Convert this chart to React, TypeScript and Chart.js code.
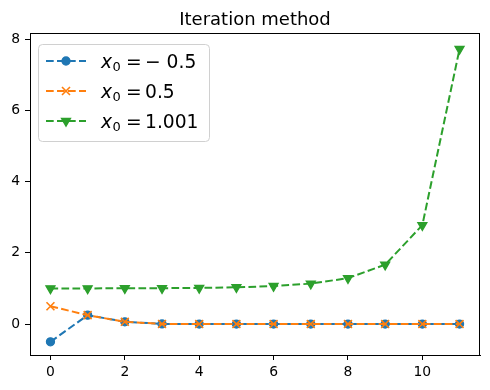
import React, { useEffect, useRef } from "react";
import { Chart, registerables } from "chart.js";

Chart.register(...registerables);

const iterations = [0, 1, 2, 3, 4, 5, 6, 7, 8, 9, 10, 11];
const seriesNeg = [-0.5, 0.25, 0.0625, 0.0039, 0.0, 0.0, 0.0, 0.0, 0.0, 0.0, 0.0, 0.0];
const seriesHalf = [0.5, 0.25, 0.0625, 0.0039, 0.0, 0.0, 0.0, 0.0, 0.0, 0.0, 0.0, 0.0];
const seriesNear1 = [1.001, 1.002, 1.004, 1.008, 1.016, 1.032, 1.066, 1.136, 1.29, 1.668, 2.78, 7.73];
const xTicks = [0, 2, 4, 6, 8, 10];
const yTicks = [0, 2, 4, 6, 8];
const legendValues = ["\u2212 0.5", "0.5", "1.001"];
const titleText = "Iteration method";

const BLUE = "#1f77b4";
const ORANGE = "#ff7f0e";
const GREEN = "#2ca02c";
const FONT = "'DejaVu Sans', sans-serif";
const DASH = [7.7, 3.3];
const LW = 2;

function drawMarker(ctx: CanvasRenderingContext2D, kind: string, x: number, y: number, color: string) {
  ctx.save();
  ctx.setLineDash([]);
  ctx.fillStyle = color;
  ctx.strokeStyle = color;
  if (kind === "circle") {
    ctx.lineWidth = 1.3;
    ctx.beginPath();
    ctx.arc(x, y, 4, 0, Math.PI * 2);
    ctx.fill();
    ctx.stroke();
  } else if (kind === "x") {
    ctx.lineWidth = 1.6;
    const d = 4;
    ctx.beginPath();
    ctx.moveTo(x - d, y - d);
    ctx.lineTo(x + d, y + d);
    ctx.moveTo(x - d, y + d);
    ctx.lineTo(x + d, y - d);
    ctx.stroke();
  } else {
    ctx.lineWidth = 1.3;
    const r = 5.2;
    ctx.beginPath();
    ctx.moveTo(x, y + r);
    ctx.lineTo(x - r * Math.sin(Math.PI / 3), y - r / 2);
    ctx.lineTo(x + r * Math.sin(Math.PI / 3), y - r / 2);
    ctx.closePath();
    ctx.fill();
    ctx.stroke();
  }
  ctx.restore();
}

const decorPlugin = {
  id: "decor",
  afterDraw(chart: any) {
    const ctx: CanvasRenderingContext2D = chart.ctx;
    const a = chart.chartArea;
    ctx.save();
    ctx.strokeStyle = "#000";
    ctx.lineWidth = 1;
    ctx.setLineDash([]);
    ctx.strokeRect(Math.round(a.left) + 0.5, Math.round(a.top) + 0.5, Math.round(a.right - a.left) - 1, Math.round(a.bottom - a.top));
    ctx.fillStyle = "#000";
    ctx.font = `18px ${FONT}`;
    ctx.textAlign = "center";
    ctx.textBaseline = "alphabetic";
    ctx.fillText(titleText, (a.left + a.right) / 2, a.top - 8);
    const bx = 38.5, by = 44.5, bw = 171, bh = 97, rr = 4;
    ctx.beginPath();
    ctx.moveTo(bx + rr, by);
    ctx.lineTo(bx + bw - rr, by);
    ctx.quadraticCurveTo(bx + bw, by, bx + bw, by + rr);
    ctx.lineTo(bx + bw, by + bh - rr);
    ctx.quadraticCurveTo(bx + bw, by + bh, bx + bw - rr, by + bh);
    ctx.lineTo(bx + rr, by + bh);
    ctx.quadraticCurveTo(bx, by + bh, bx, by + bh - rr);
    ctx.lineTo(bx, by + rr);
    ctx.quadraticCurveTo(bx, by, bx + rr, by);
    ctx.closePath();
    ctx.fillStyle = "rgba(255,255,255,0.8)";
    ctx.fill();
    ctx.strokeStyle = "#d0d0d0";
    ctx.lineWidth = 1;
    ctx.stroke();
    const colors = [BLUE, ORANGE, GREEN];
    const kinds = ["circle", "x", "tri"];
    const rows = [61, 91, 121];
    for (let i = 0; i < 3; i++) {
      const y = rows[i];
      ctx.strokeStyle = colors[i];
      ctx.lineWidth = LW;
      ctx.setLineDash(DASH);
      ctx.beginPath();
      ctx.moveTo(46, y);
      ctx.lineTo(86, y);
      ctx.stroke();
      drawMarker(ctx, kinds[i], 66, y, colors[i]);
      ctx.setLineDash([]);
      ctx.fillStyle = "#000";
      ctx.textAlign = "left";
      ctx.textBaseline = "alphabetic";
      const base = y + 7;
      const tx = 101;
      ctx.font = `italic 18.7px ${FONT}`;
      ctx.fillText("x", tx, base);
      ctx.font = `13px ${FONT}`;
      ctx.fillText("0", tx + 11.5, base + 3);
      ctx.font = `18.7px ${FONT}`;
      ctx.fillText("=", tx + 25, base);
      ctx.fillText(legendValues[i], tx + 44, base);
    }
    ctx.restore();
  },
};

export default function App() {
  const ref = useRef<HTMLCanvasElement | null>(null);
  useEffect(() => {
    document.body.style.margin = "0";
    const canvas = ref.current;
    if (!canvas) return;
    const mk = (vals: number[]) => iterations.map((x, i) => ({ x, y: vals[i] }));
    const chart = new Chart(canvas, {
      type: "line",
      data: {
        datasets: [
          {
            label: "x0 = -0.5",
            data: mk(seriesNeg),
            borderColor: BLUE,
            backgroundColor: BLUE,
            borderWidth: LW,
            borderDash: DASH,
            pointStyle: "circle",
            pointRadius: 4,
            pointBorderWidth: 1.3,
            pointBackgroundColor: BLUE,
            pointBorderColor: BLUE,
            order: 3,
          },
          {
            label: "x0 = 0.5",
            data: mk(seriesHalf),
            borderColor: ORANGE,
            backgroundColor: ORANGE,
            borderWidth: LW,
            borderDash: DASH,
            pointStyle: "crossRot",
            pointRadius: 5.6,
            pointBorderWidth: 1.6,
            pointBorderColor: ORANGE,
            order: 2,
          },
          {
            label: "x0 = 1.001",
            data: mk(seriesNear1),
            borderColor: GREEN,
            backgroundColor: GREEN,
            borderWidth: LW,
            borderDash: DASH,
            pointStyle: "triangle",
            pointRotation: 180,
            pointRadius: 5.2,
            pointBorderWidth: 1.3,
            pointBackgroundColor: GREEN,
            pointBorderColor: GREEN,
            order: 1,
          },
        ],
      },
      options: {
        animation: false,
        responsive: false,
        devicePixelRatio: 1,
        layout: { padding: { left: 0, right: 10, top: 33, bottom: 0 } },
        plugins: { legend: { display: false }, title: { display: false }, tooltip: { enabled: false } },
        scales: {
          x: {
            type: "linear",
            min: -0.55,
            max: 11.55,
            afterFit: (s: any) => { s.height = 35; },
            afterBuildTicks: (s: any) => { s.ticks = xTicks.map((v) => ({ value: v })); },
            grid: { drawOnChartArea: false, drawTicks: true, tickLength: 5, color: "#000" },
            border: { display: true, color: "#000", width: 1 },
            ticks: { color: "#000", padding: 4, font: { family: FONT, size: 13.9 }, maxRotation: 0, autoSkip: false },
          },
          y: {
            type: "linear",
            min: -0.87,
            max: 8.18,
            afterFit: (s: any) => { s.width = 30; },
            afterBuildTicks: (s: any) => { s.ticks = yTicks.map((v) => ({ value: v })); },
            grid: { drawOnChartArea: false, drawTicks: true, tickLength: 5, color: "#000" },
            border: { display: true, color: "#000", width: 1 },
            ticks: { color: "#000", padding: 5, font: { family: FONT, size: 13.9 }, autoSkip: false },
          },
        },
      },
      plugins: [decorPlugin],
    } as any);
    return () => chart.destroy();
  }, []);
  return (
    <div style={{ position: "absolute", left: 0, top: 0, width: 490, height: 390 }}>
      <canvas ref={ref} width={490} height={390} style={{ width: 490, height: 390 }} />
    </div>
  );
}
